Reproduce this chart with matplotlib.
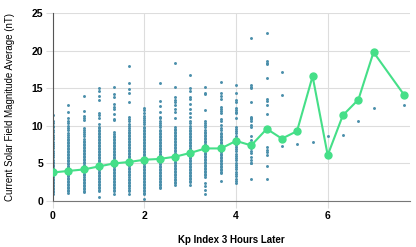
"""Kp index 3 hours later vs current solar field magnitude average."""

import matplotlib
matplotlib.use("Agg")
import matplotlib.pyplot as plt

plt.rcParams["font.family"] = ["Liberation Sans", "DejaVu Sans"]

# observed field values (nT) grouped by the Kp value three hours later
kp_levels = [0, 0.33, 0.67, 1, 1.33, 1.67, 2, 2.33, 2.67, 3, 3.33, 3.67,
             4, 4.33, 4.67, 5, 5.33, 5.67, 6, 6.33, 6.67, 7, 7.67]

field_by_kp = [
    [1.0, 1.2, 1.4, 1.6, 1.8, 2.0, 2.2, 2.4, 2.6, 2.8, 3.0, 3.2, 3.4, 3.6, 3.8, 4.0,
     4.2, 4.4, 4.6, 4.8, 5.0, 5.2, 5.4, 5.8, 6.1, 6.4, 6.7, 7.0, 7.3, 7.6, 7.9, 8.2,
     8.5, 8.8, 9.2, 9.5, 9.8, 10.0, 10.4, 10.7, 11.5],
    [1.1, 1.3, 1.5, 1.7, 1.9, 2.1, 2.3, 2.5, 2.7, 2.9, 3.1, 3.3, 3.5, 3.7, 3.9, 4.1,
     4.3, 4.5, 4.7, 4.9, 5.1, 5.3, 5.5, 5.7, 5.9, 6.1, 6.3, 6.5, 6.7, 6.9, 7.1, 7.3,
     7.5, 7.7, 7.9, 8.1, 8.3, 8.5, 8.8, 9.1, 9.4, 9.7, 10.0, 10.4, 10.6, 11.0, 11.8, 12.8],
    [1.2, 1.4, 1.6, 1.8, 2.0, 2.2, 2.4, 2.6, 2.8, 3.0, 3.2, 3.4, 3.6, 3.8, 4.0, 4.2,
     4.4, 4.6, 4.8, 5.0, 5.2, 5.4, 5.6, 5.8, 6.0, 6.2, 6.4, 6.6, 6.8, 7.0, 7.2, 7.4,
     7.6, 7.8, 8.0, 8.3, 8.6, 8.9, 9.2, 9.5, 9.7, 10.8, 11.0, 11.3, 12.0, 14.0],
    [0.6, 1.3, 1.5, 1.7, 1.9, 2.1, 2.3, 2.5, 2.7, 2.9, 3.1, 3.3, 3.5, 3.7, 3.9, 4.1,
     4.3, 4.5, 4.7, 4.9, 5.1, 5.3, 5.5, 5.7, 5.9, 6.1, 6.3, 6.5, 6.7, 6.9, 7.1, 7.3,
     7.5, 7.7, 7.9, 8.1, 8.3, 8.5, 8.7, 8.9, 9.1, 9.3, 9.5, 9.7, 9.9, 10.2, 11.0,
     11.4, 11.7, 13.4, 14.0, 14.7, 15.0],
    [1.0, 1.3, 1.5, 1.7, 1.9, 2.1, 2.3, 2.5, 2.7, 2.9, 3.1, 3.3, 3.5, 3.7, 3.9, 4.1,
     4.3, 4.5, 4.7, 4.9, 5.1, 5.3, 5.5, 5.7, 5.9, 6.1, 6.3, 6.5, 6.7, 6.9, 7.1, 7.3,
     7.5, 7.7, 7.9, 8.1, 8.3, 8.5, 8.7, 8.9, 9.2, 10.8, 10.9, 11.6, 12.3, 12.5, 12.9,
     13.8, 14.3, 15.2],
    [1.0, 1.3, 1.5, 1.8, 2.0, 2.2, 2.4, 2.6, 2.8, 3.0, 3.2, 3.4, 3.6, 3.8, 4.0, 4.2,
     4.4, 4.6, 4.8, 5.0, 5.2, 5.4, 5.6, 5.8, 6.0, 6.2, 6.4, 6.6, 6.8, 7.0, 7.2, 7.4,
     7.6, 7.8, 8.0, 8.2, 8.4, 8.6, 8.8, 9.0, 9.2, 9.4, 9.7, 10.0, 10.3, 10.6, 10.9,
     11.2, 13.2, 14.4, 14.9, 15.7, 17.9],
    [0.3, 0.9, 1.1, 1.3, 1.5, 1.7, 1.9, 2.1, 2.3, 2.5, 2.7, 2.9, 3.1, 3.3, 3.5, 3.7,
     3.9, 4.1, 4.3, 4.5, 4.7, 4.9, 5.1, 5.3, 5.5, 5.7, 5.9, 6.1, 6.3, 6.5, 6.7, 6.9,
     7.1, 7.3, 7.5, 7.7, 7.9, 8.1, 8.3, 8.5, 8.7, 8.9, 9.1, 9.3, 9.5, 9.7, 9.9, 10.2,
     10.5, 10.8, 11.0, 11.3, 11.7, 12.1, 12.4],
    [1.7, 1.9, 2.1, 2.3, 2.5, 2.7, 2.9, 3.1, 3.3, 3.5, 3.7, 3.9, 4.1, 4.3, 4.5, 4.7,
     4.9, 5.1, 5.3, 5.5, 5.7, 5.9, 6.1, 6.3, 6.5, 6.7, 6.9, 7.1, 7.3, 7.5, 7.7, 7.9,
     8.1, 8.3, 8.5, 8.7, 8.9, 9.1, 9.3, 9.5, 9.8, 10.1, 10.4, 10.7, 11.0, 11.2, 11.8,
     12.6, 13.3, 15.7],
    [2.1, 2.4, 2.6, 2.8, 3.0, 3.2, 3.4, 3.6, 3.8, 4.0, 4.2, 4.4, 4.6, 4.8, 5.0, 5.2,
     5.4, 5.6, 5.8, 6.0, 6.2, 6.4, 6.6, 6.8, 7.0, 7.2, 7.4, 7.6, 7.8, 8.0, 8.2, 8.4,
     8.6, 8.8, 9.0, 9.2, 9.4, 9.6, 9.9, 11.1, 11.8, 12.3, 12.8, 13.2, 13.4, 13.9,
     15.2, 18.4],
    [2.1, 2.5, 2.7, 2.9, 3.1, 3.3, 3.5, 3.7, 3.9, 4.1, 4.3, 4.5, 4.7, 4.9, 5.1, 5.3,
     5.5, 5.7, 5.9, 6.1, 6.3, 6.5, 6.7, 6.9, 7.1, 7.3, 7.5, 7.7, 7.9, 8.1, 8.3, 8.5,
     8.7, 8.9, 9.1, 9.3, 9.5, 9.7, 10.0, 10.4, 10.7, 11.2, 11.7, 12.3, 12.9, 13.6,
     13.9, 14.7, 15.0, 16.8],
    [1.0, 1.5, 2.0, 2.4, 3.2, 3.4, 3.6, 3.8, 4.0, 4.2, 4.4, 4.6, 4.8, 5.0, 5.2, 5.4,
     5.6, 5.8, 6.0, 6.2, 6.4, 6.6, 6.8, 7.0, 7.2, 7.4, 7.6, 7.8, 8.0, 8.2, 8.4, 8.6,
     8.8, 9.0, 9.2, 9.5, 9.8, 10.1, 10.4, 10.6, 12.1, 14.3, 14.4, 15.2],
    [2.7, 3.7, 3.9, 4.1, 4.3, 4.5, 4.7, 4.9, 5.1, 5.3, 5.5, 5.7, 5.9, 6.1, 6.3, 6.5,
     6.7, 6.9, 7.1, 7.3, 7.5, 7.7, 7.9, 8.1, 8.3, 8.5, 8.7, 8.9, 9.1, 9.4, 9.7, 10.1,
     10.6, 10.9, 11.7, 12.0, 12.3, 12.5, 13.6, 14.0, 14.4, 15.8],
    [2.4, 2.7, 3.0, 3.3, 3.6, 3.9, 4.2, 4.5, 4.8, 5.1, 5.4, 5.7, 6.0, 6.3, 6.6, 6.9,
     7.2, 7.5, 7.8, 8.1, 8.4, 8.7, 9.0, 9.3, 9.6, 9.9, 11.0, 11.7, 11.8, 12.1, 12.4,
     13.2, 13.5, 14.4, 15.5],
    [3.0, 5.0, 5.1, 5.5, 5.9, 6.4, 6.6, 7.0, 7.5, 7.7, 8.1, 8.6, 9.9, 10.1, 10.6,
     10.9, 11.0, 11.2, 13.2, 15.0, 15.2, 15.5, 21.7],
    [2.9, 4.6, 6.1, 6.5, 6.8, 7.2, 11.6, 12.8, 13.3, 13.6, 16.4, 18.2, 18.3, 18.6, 22.4],
    [7.3, 14.1, 17.2],
    [7.6],
    [7.8],
    [8.7],
    [8.8],
    [10.6],
    [12.4],
    [12.8],
]

# average field for each Kp level
field_mean = [3.8, 4.0, 4.2, 4.6, 5.0, 5.2, 5.5, 5.6, 5.9, 6.4, 7.0, 7.0,
              8.0, 7.4, 9.6, 8.3, 9.3, 16.6, 6.1, 11.4, 13.5, 19.8, 14.1]

DOT = "#4a8fab"
LINE = "#45df88"

fig = plt.figure(figsize=(4.16, 2.47), dpi=100)
ax = fig.add_axes([0.127, 0.186, 0.859, 0.761])

xs, ys = [], []
for kp, vals in zip(kp_levels, field_by_kp):
    xs.extend([kp] * len(vals))
    ys.extend(vals)
ax.scatter(xs, ys, s=4.5, color=DOT, linewidths=0, zorder=2)

ax.plot(kp_levels, field_mean, color=LINE, linewidth=1.5, marker="o",
        markersize=5, zorder=3)

ax.set_xlim(0, 7.8)
ax.set_ylim(0, 25)
ax.set_xticks([0, 2, 4, 6])
ax.set_yticks([0, 5, 10, 15, 20, 25])
ax.grid(True, color="#dddddd", linewidth=0.8, zorder=0)
ax.set_axisbelow(True)

for side in ("top", "right"):
    ax.spines[side].set_visible(False)
ax.spines["left"].set_color("#555555")
ax.spines["bottom"].set_color("#777777")
ax.tick_params(axis="both", length=5, color="#dddddd", labelsize=7.5, pad=2)
for lab in ax.get_xticklabels() + ax.get_yticklabels():
    lab.set_fontweight("bold")

ax.set_xlabel("Kp Index 3 Hours Later", fontsize=7, fontweight="bold", labelpad=10)
ax.set_ylabel("Current Solar Field Magnitude Average (nT)", fontsize=7, labelpad=12)

fig.savefig("out.png", dpi=100)
